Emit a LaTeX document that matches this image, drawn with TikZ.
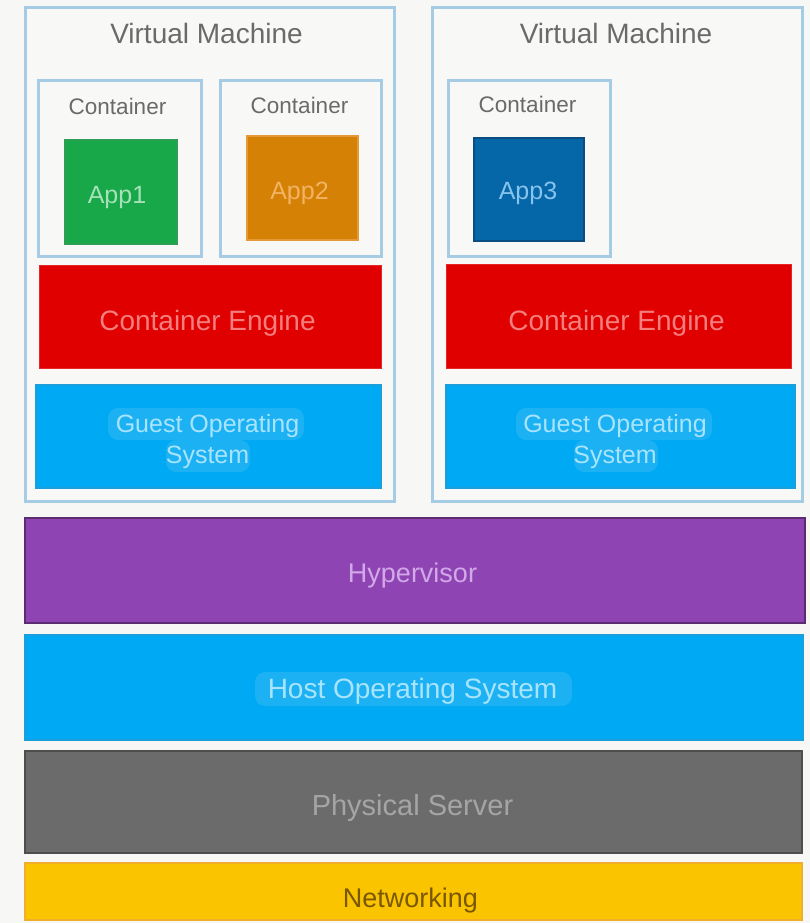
\documentclass[tikz,border=0pt]{standalone}
\usepackage{fontspec}
\setmainfont{Liberation Sans}

\definecolor{pagebg}{HTML}{F7F7F5}
\definecolor{vmline}{HTML}{A6CBE4}
\definecolor{vmfill}{HTML}{F8F8F6}
\definecolor{titlegray}{HTML}{6A6A6A}
\definecolor{appgreen}{HTML}{18A84A}
\definecolor{appgreenline}{HTML}{2E9E55}
\definecolor{appgreentext}{HTML}{A6E2B8}
\definecolor{apporange}{HTML}{D58106}
\definecolor{apporangeline}{HTML}{E59A3A}
\definecolor{apporangetext}{HTML}{F2B462}
\definecolor{appblue}{HTML}{0566A8}
\definecolor{appblueline}{HTML}{0B4D80}
\definecolor{appbluetext}{HTML}{86C4EE}
\definecolor{enginered}{HTML}{E00000}
\definecolor{enginetext}{HTML}{F47E7E}
\definecolor{osblue}{HTML}{00A9F4}
\definecolor{osline}{HTML}{1A9EDC}
\definecolor{oshaze}{HTML}{1CB1F2}
\definecolor{ostext}{HTML}{A8E4FF}
\definecolor{hyppurple}{HTML}{8E45B3}
\definecolor{hypline}{HTML}{5B2C70}
\definecolor{hyptext}{HTML}{D2A8E8}
\definecolor{servergray}{HTML}{6B6B6B}
\definecolor{serverline}{HTML}{4E4E4E}
\definecolor{servertext}{HTML}{A5A5A5}
\definecolor{netyellow}{HTML}{FBC400}
\definecolor{netline}{HTML}{F1AE2C}
\definecolor{nettext}{HTML}{7A5800}

\begin{document}
\begin{tikzpicture}[x=1pt,y=-1pt,
  layer/.style={draw, rectangle, inner sep=0pt},
  vmbox/.style={layer, draw=vmline, fill=vmfill, line width=3pt},
  contbox/.style={layer, draw=vmline, fill=vmfill, line width=3pt},
  appbox/.style={layer, line width=1.5pt},
  enginebox/.style={layer, fill=enginered, draw=enginered!85!white, line width=1pt},
  osbox/.style={layer, fill=osblue, draw=osline, line width=1.5pt},
  wide/.style={layer, line width=2pt},
  haze/.style={fill=oshaze, rounded corners=10pt, draw=none},
  lbl/.style={anchor=base, inner sep=0pt, align=center},
  vmtitle/.style={lbl, text=titlegray, font=\fontsize{28}{28}\selectfont},
  conttitle/.style={lbl, text=titlegray, font=\fontsize{22.5}{22.5}\selectfont},
  applbl/.style={lbl, font=\fontsize{25}{25}\selectfont},
  enginelbl/.style={lbl, text=enginetext, font=\fontsize{28}{28}\selectfont},
  guestlbl/.style={lbl, text=ostext, font=\fontsize{25}{31}\selectfont}
]
% page
\fill[pagebg] (0,0) rectangle (810,923);
\useasboundingbox (0,0) rectangle (810,923);

% virtual machines
\node[vmbox, minimum width=369pt, minimum height=493pt] (vm1) at (209.5,254.5) {};
\node[vmbox, minimum width=370pt, minimum height=493pt] (vm2) at (617,254.5) {};
\node[vmtitle] (vm1t) at (206.5,44) {Virtual Machine};
\node[vmtitle] (vm2t) at (616,44) {Virtual Machine};

% containers
\node[contbox, minimum width=163pt, minimum height=175pt] (c1) at (119.5,168.5) {};
\node[contbox, minimum width=161pt, minimum height=175pt] (c2) at (300.5,168.5) {};
\node[contbox, minimum width=162pt, minimum height=175pt] (c3) at (529,168.5) {};
\node[conttitle] (c1t) at (117.5,114.5) {Container};
\node[conttitle] (c2t) at (299.5,113.5) {Container};
\node[conttitle] (c3t) at (527.5,113) {Container};

% applications
\node[appbox, fill=appgreen, draw=appgreenline,
  minimum width=112pt, minimum height=104pt] (app1) at (121,192) {};
\node[appbox, fill=apporange, draw=apporangeline,
  minimum width=111pt, minimum height=104pt] (app2) at (302.5,188) {};
\node[appbox, fill=appblue, draw=appblueline,
  minimum width=110pt, minimum height=103pt] (app3) at (529,189.5) {};
\node[applbl, text=appgreentext] (app1t) at (117,203) {App1};
\node[applbl, text=apporangetext] (app2t) at (299.5,199) {App2};
\node[applbl, text=appbluetext] (app3t) at (528,199) {App3};

% container engines
\node[enginebox, minimum width=342pt, minimum height=103pt] (ce1) at (210,316.5) {};
\node[enginebox, minimum width=345pt, minimum height=104pt] (ce2) at (618.5,316) {};
\node[enginelbl] (ce1t) at (207.5,330) {Container Engine};
\node[enginelbl] (ce2t) at (616.5,330) {Container Engine};

% guest operating systems (the label's base is its last line)
\node[osbox, minimum width=345pt, minimum height=103pt] (gos1) at (208.5,436.5) {};
\node[osbox, minimum width=349pt, minimum height=103pt] (gos2) at (620.5,436.5) {};
\fill[haze] (108,408) rectangle (304,440);
\fill[haze] (166,440) rectangle (250,472);
\fill[haze] (516,408) rectangle (712,440);
\fill[haze] (574,440) rectangle (658,472);
\node[guestlbl] (gos1t) at (207.5,463) {Guest Operating\\System};
\node[guestlbl] (gos2t) at (615,463) {Guest Operating\\System};

% shared layers
\node[wide, fill=hyppurple, draw=hypline,
  minimum width=780pt, minimum height=105pt] (hyp) at (415,570.5) {};
\node[wide, fill=osblue, draw=osline,
  minimum width=778pt, minimum height=105pt] (host) at (414,687.5) {};
\node[wide, fill=servergray, draw=serverline,
  minimum width=777pt, minimum height=102pt] (phys) at (413.5,802) {};
\node[wide, fill=netyellow, draw=netline,
  minimum width=777pt, minimum height=57pt] (net) at (413.5,891.5) {};
\fill[haze] (255,672) rectangle (572,706);

\node[lbl, text=hyptext, font=\fontsize{27}{27}\selectfont] (hypt) at (412.5,582) {Hypervisor};
\node[lbl, text=ostext, font=\fontsize{28}{28}\selectfont] (hostt) at (412.5,698) {Host Operating System};
\node[lbl, text=servertext, font=\fontsize{29}{29}\selectfont] (physt) at (412.5,815) {Physical Server};
\node[lbl, text=nettext, font=\fontsize{27}{27}\selectfont] (nett) at (410.5,907) {Networking};
\end{tikzpicture}
\end{document}
